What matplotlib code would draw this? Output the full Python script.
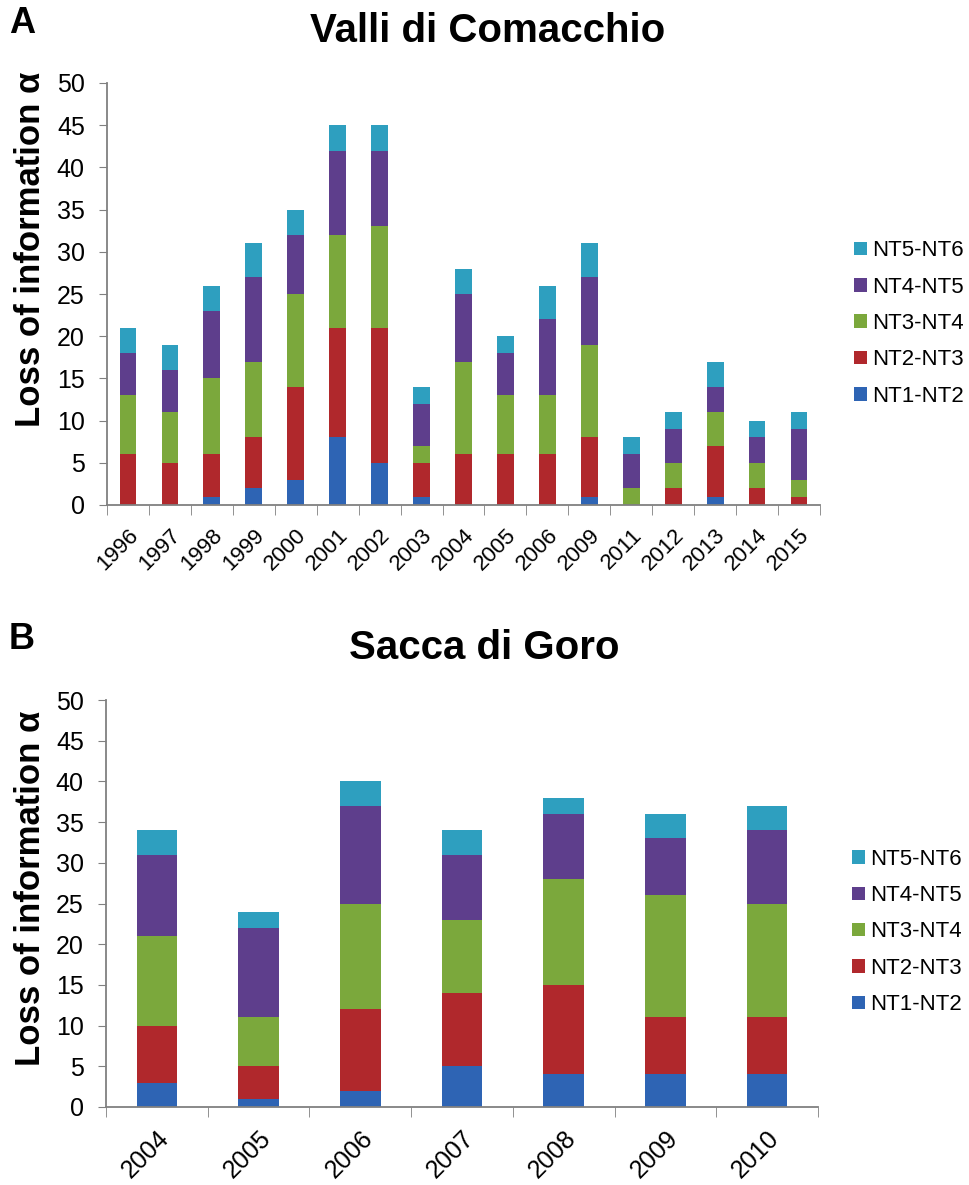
import matplotlib
matplotlib.use("Agg")
import matplotlib.pyplot as plt
import numpy as np
from matplotlib.patches import Patch

plt.rcParams['font.family'] = ['Liberation Sans', 'DejaVu Sans']

series = ["NT1-NT2", "NT2-NT3", "NT3-NT4", "NT4-NT5", "NT5-NT6"]
colors = ["#2E64B4", "#B0282C", "#7BA83C", "#5E3E8C", "#2E9FBF"]

years_a = ["1996", "1997", "1998", "1999", "2000", "2001", "2002", "2003", "2004",
           "2005", "2006", "2009", "2011", "2012", "2013", "2014", "2015"]
a_nt12 = [0, 0, 1, 2, 3, 8, 5, 1, 0, 0, 0, 1, 0, 0, 1, 0, 0]
a_nt23 = [6, 5, 5, 6, 11, 13, 16, 4, 6, 6, 6, 7, 0, 2, 6, 2, 1]
a_nt34 = [7, 6, 9, 9, 11, 11, 12, 2, 11, 7, 7, 11, 2, 3, 4, 3, 2]
a_nt45 = [5, 5, 8, 10, 7, 10, 9, 5, 8, 5, 9, 8, 4, 4, 3, 3, 6]
a_nt56 = [3, 3, 3, 4, 3, 3, 3, 2, 3, 2, 4, 4, 2, 2, 3, 2, 2]

years_b = ["2004", "2005", "2006", "2007", "2008", "2009", "2010"]
b_nt12 = [3, 1, 2, 5, 4, 4, 4]
b_nt23 = [7, 4, 10, 9, 11, 7, 7]
b_nt34 = [11, 6, 13, 9, 13, 15, 14]
b_nt45 = [10, 11, 12, 8, 8, 7, 9]
b_nt56 = [3, 2, 3, 3, 2, 3, 3]

W, H = 970, 1185
fig = plt.figure(figsize=(W / 100, H / 100), dpi=100)


def draw(ax, cats, data, xfs):
    x = np.arange(len(cats))
    bottom = np.zeros(len(cats))
    for vals, c in zip(data, colors):
        ax.bar(x, vals, width=0.4, bottom=bottom, color=c, edgecolor='none')
        bottom += np.array(vals)
    ax.set_xlim(-0.5, len(cats) - 0.5)
    ax.set_ylim(0, 50)
    ax.set_yticks(np.arange(0, 51, 5))
    ax.tick_params(axis='y', labelsize=18, length=6, color='#808080', pad=10)
    ax.set_xticks(x)
    ax.set_xticklabels(cats, rotation=45, ha='right', rotation_mode='anchor', fontsize=xfs)
    ax.tick_params(axis='x', length=0, pad=14)
    ax.set_xticks(np.arange(-0.5, len(cats), 1.0), minor=True)
    ax.tick_params(axis='x', which='minor', length=7, color='#808080')
    for s in ['top', 'right']:
        ax.spines[s].set_visible(False)
    for s in ['left', 'bottom']:
        ax.spines[s].set_color('#808080')
        ax.spines[s].set_linewidth(1.3)
    handles = [Patch(facecolor=c) for c in colors][::-1]
    ax.legend(handles, series[::-1], loc='center left', bbox_to_anchor=(1.0, 0.43),
              frameon=False, fontsize=16, handlelength=0.55, handleheight=0.55,
              handletextpad=0.25, labelspacing=0.69, borderaxespad=1.35,
              borderpad=0.2)


def fx(px):
    return px / W


def fy(py):
    return 1 - py / H


ax1 = fig.add_axes([fx(107), fy(505), fx(820) - fx(107), fy(83) - fy(505)])
draw(ax1, years_a, [a_nt12, a_nt23, a_nt34, a_nt45, a_nt56], 16)
ax2 = fig.add_axes([fx(106), fy(1107), fx(818) - fx(106), fy(700) - fy(1107)])
draw(ax2, years_b, [b_nt12, b_nt23, b_nt34, b_nt45, b_nt56], 18)

fig.text(fx(488), fy(31), "Valli di Comacchio", fontsize=29, fontweight='bold',
         ha='center', va='center')
fig.text(fx(484), fy(648), "Sacca di Goro", fontsize=29, fontweight='bold',
         ha='center', va='center')

fig.text(fx(31), fy(249), "Loss of information α", fontsize=25, fontweight='bold',
         rotation=90, ha='center', va='center')
fig.text(fx(31), fy(888), "Loss of information α", fontsize=25, fontweight='bold',
         rotation=90, ha='center', va='center')

fig.text(fx(9), fy(6), "A", fontsize=26, fontweight='bold', va='top', ha='left')
fig.text(fx(9), fy(622), "B", fontsize=26, fontweight='bold', va='top', ha='left')

fig.savefig("out.png", dpi=100)
